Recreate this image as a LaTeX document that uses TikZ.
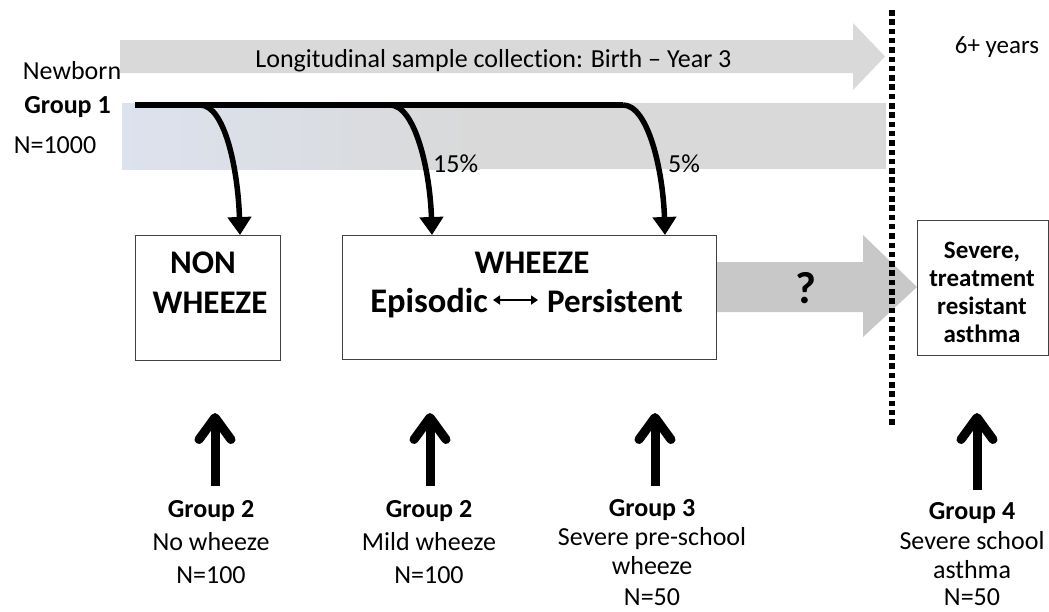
\documentclass[tikz,border=0pt]{standalone}
\usepackage{fontspec}
\setmainfont{Carlito}[Ligatures=NoCommon]
\usetikzlibrary{arrows.meta,calc}
\definecolor{bandgray}{HTML}{D9D9D9}
\definecolor{bandblue}{HTML}{DCE2EE}
\definecolor{qgray}{HTML}{C8C8C8}
\definecolor{boxline}{HTML}{404040}
\begin{document}
\begin{tikzpicture}[x=1pt,y=-1pt,
  txt/.style={inner sep=0pt, anchor=base, font=\fontsize{26}{31}\selectfont},
  btxt/.style={inner sep=0pt, anchor=base, font=\fontsize{26}{31}\selectfont\bfseries},
  boxtxt/.style={inner sep=0pt, anchor=base, font=\fontsize{33}{40}\selectfont\bfseries},
  sevtxt/.style={inner sep=0pt, anchor=base, font=\fontsize{25}{30}\selectfont\bfseries},
  boxnode/.style={draw=boxline, line width=1.1pt, inner sep=0pt, anchor=north west},
  blk/.style={line width=5.5pt, line cap=butt},
  downarrow/.style={blk, -{Triangle[length=18pt,width=23pt]}},
  uparrow/.style={line width=9pt, -{Straight Barb[length=22pt,width=32pt,round]}},
  dotline/.style={line width=5.5pt, dash pattern=on 5.5pt off 3.8pt},
]
\useasboundingbox (0,0) rectangle (1049,611);

% top timeline arrow
\fill[bandgray] (120,40) -- (853,40) -- (853,23) -- (885,56.5) -- (853,90) -- (853,73) -- (120,73) -- cycle;
\node[txt] (longi) at (493.5,67) {Longitudinal sample collection: Birth – Year 3};
\node[txt, font=\fontsize{25}{30}\selectfont] (six) at (997,53) {6+ years};

% band
\shade[left color=bandblue, right color=bandgray] (122,103) rectangle (480,169);
\fill[bandgray] (479.5,103) rectangle (886,169);

% left labels
\node[txt] (newborn) at (72,79) {Newborn};
\node[btxt] (g1) at (67.5,113) {Group 1};
\node[txt] (n1000) at (55,153) {N=1000};

% "?" arrow
\fill[qgray] (716,262) -- (863,262) -- (863,235) -- (917,287) -- (863,337) -- (863,312) -- (716,312) -- cycle;
\node[inner sep=0pt, anchor=base, font=\fontsize{45}{50}\selectfont\bfseries] (q) at (806,303) {?};

% boxes
\node[boxnode, minimum width=145pt, minimum height=125pt] (nonw) at (135,235) {};
\node[boxnode, minimum width=374pt, minimum height=124pt] (whz) at (342,235) {};
\node[boxnode, minimum width=130.5pt, minimum height=135pt] (sev) at (917,220) {};

\node[boxtxt] (non) at (203,273) {NON};
\node[boxtxt] (nonwz) at (210,313) {WHEEZE};
\node[boxtxt] (wz) at (532,273) {WHEEZE};
\node[boxtxt, anchor=base east, font=\fontsize{34.5}{40}\selectfont\bfseries] (ep) at (488,312) {Episodic};
\node[boxtxt, anchor=base west] (pe) at (547,312) {Persistent};
\draw[line width=2pt, {Triangle[length=7pt,width=9pt]}-{Triangle[length=7pt,width=9pt]}]
  ([xshift=5pt,yshift=12pt]ep.base east) -- ([xshift=-9pt,yshift=12pt]pe.base west);

\node[sevtxt] (sv1) at (982,258) {Severe,};
\node[sevtxt] (sv2) at (982,286) {treatment};
\node[sevtxt] (sv3) at (982,314) {resistant};
\node[sevtxt] (sv4) at (982,342) {asthma};

% group 1 line and branches
\coordinate (g1start) at (135,105);
\coordinate (s1) at (200,105);
\coordinate (s2) at (390,105);
\coordinate (s3) at (623,105);
\draw[blk] (g1start) -- (s3);
\draw[downarrow] (s1) .. controls +(25,0) and +(-2,-65) .. ($(nonw.north west)+(105,0)$);
\draw[downarrow] (s2) .. controls +(25,0) and +(-2,-65) .. ($(whz.north west)+(90,0)$);
\draw[downarrow] (s3) .. controls +(25,0) and +(-2,-65) .. ($(whz.north west)+(323,0)$);
\node[txt, anchor=base west] (p15) at (433,172) {15\%};
\node[txt, anchor=base west] (p5) at (668,172) {5\%};

% dotted divider
\coordinate (dtop) at (892,10);
\coordinate (dbot) at (892,428);
\draw[dotline] (dtop) -- (dbot);

% bottom arrows
\coordinate (b1) at (215,486); \coordinate (t1) at (215,413);
\coordinate (b2) at (430,486); \coordinate (t2) at (430,413);
\coordinate (b3) at (655,486); \coordinate (t3) at (655,413);
\coordinate (b4) at (977,490); \coordinate (t4) at (977,413);
\draw[uparrow] (b1) -- (t1);
\draw[uparrow] (b2) -- (t2);
\draw[uparrow] (b3) -- (t3);
\draw[uparrow] (b4) -- (t4);

% bottom labels
\node[btxt] (ga1) at (211,517) {Group 2};
\node[txt] (ga2) at (211,550) {No wheeze};
\node[txt] (ga3) at (211,583) {N=100};

\node[btxt] (gb1) at (429,517) {Group 2};
\node[txt] (gb2) at (429,550) {Mild wheeze};
\node[txt] (gb3) at (429,583) {N=100};

\node[btxt] (gc1) at (652,516) {Group 3};
\node[txt] (gc2) at (652,545) {Severe pre-school};
\node[txt] (gc3) at (652,574) {wheeze};
\node[txt] (gc4) at (652,605) {N=50};

\node[btxt] (gd1) at (972,519) {Group 4};
\node[txt] (gd2) at (972,549) {Severe school};
\node[txt] (gd3) at (972,578) {asthma};
\node[txt] (gd4) at (972,605) {N=50};
\end{tikzpicture}
\end{document}
